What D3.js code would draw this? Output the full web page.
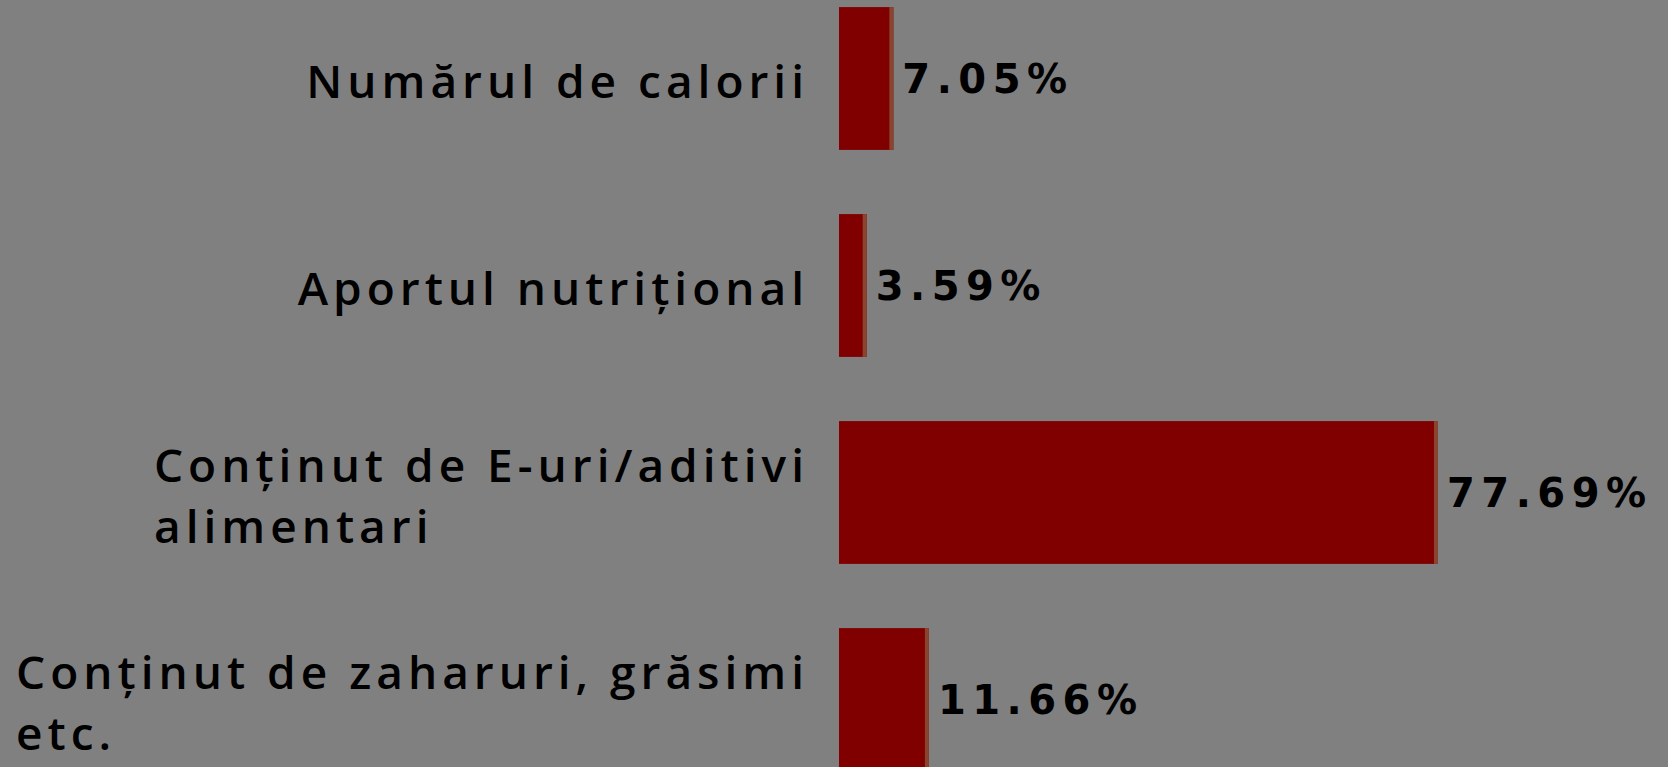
<!DOCTYPE html>
<html>
<head>
<meta charset="utf-8">
<script src="https://cdn.jsdelivr.net/npm/d3@7"></script>
<style>
  html, body { margin: 0; padding: 0; background: #808080; overflow: hidden; }
</style>
</head>
<body>
<div id="chart"></div>
<script>
// categories (top to bottom) and their shares in percent
const categories = [
    ["Numărul de calorii"],
    ["Aportul nutrițional"],
    ["Conținut de E-uri/aditivi", "alimentari"],
    ["Conținut de zaharuri, grăsimi", "etc."]
]
const values = [7.05, 3.59, 77.69, 11.66]
const valueLabels = ["7.05%", "3.59%", "77.69%", "11.66%"]

const width = 1668, height = 767

const svg = d3.select("#chart").append("svg")
    .attr("width", width)
    .attr("height", height)

svg.append("rect")
    .attr("width", width)
    .attr("height", height)
    .attr("fill", "#808080")

const x = d3.scaleLinear()
    .domain([0, 100])
    .range([839, 839 + 771])

const y = d3.scaleBand()
    .domain(d3.range(categories.length))
    .range([-25, -25 + 4 * 207])
    .paddingInner(0.31)
    .paddingOuter(0.155)

const rows = svg.selectAll(".row")
    .data(values)
    .enter()
    .append("g")
    .attr("class", "row")

// bars
rows.append("rect")
    .attr("x", x(0))
    .attr("y", (d, i) => y(i))
    .attr("width", d => x(d) - x(0))
    .attr("height", y.bandwidth())
    .attr("fill", "#800000")

// thin brownish edge on the right of each bar
rows.append("rect")
    .attr("x", d => x(d) - 4)
    .attr("y", (d, i) => y(i))
    .attr("width", 4)
    .attr("height", y.bandwidth())
    .attr("fill", "#8a4530")

// value labels
rows.append("text")
    .attr("x", d => x(d) + 9)
    .attr("y", (d, i) => y(i) + y.bandwidth() / 2)
    .attr("dy", "0.36em")
    .attr("font-family", "DejaVu Sans")
    .attr("font-weight", "bold")
    .attr("font-size", 40)
    .attr("letter-spacing", 6.5)
    .attr("fill", "#000")
    .text((d, i) => valueLabels[i])

// category labels: block right aligned, lines left aligned
const labelRight = 809
const lineH = 61
categories.forEach(function (lines, i) {
    const cy = y(i) + y.bandwidth() / 2
    const g = svg.append("text")
        .attr("font-family", "Open Sans")
        .attr("font-weight", 600)
        .attr("font-size", 46)
        .attr("letter-spacing", 5)
        .attr("fill", "#000")
    const spans = lines.map(function (t, j) {
        return g.append("tspan")
            .attr("y", cy + 3 + (j - (lines.length - 1) / 2) * lineH)
            .attr("dy", "0.36em")
            .text(t)
    })
    let maxW = 0
    spans.forEach(s => { maxW = Math.max(maxW, s.node().getComputedTextLength()) })
    spans.forEach(s => s.attr("x", labelRight - maxW))
})
</script>
</body>
</html>
